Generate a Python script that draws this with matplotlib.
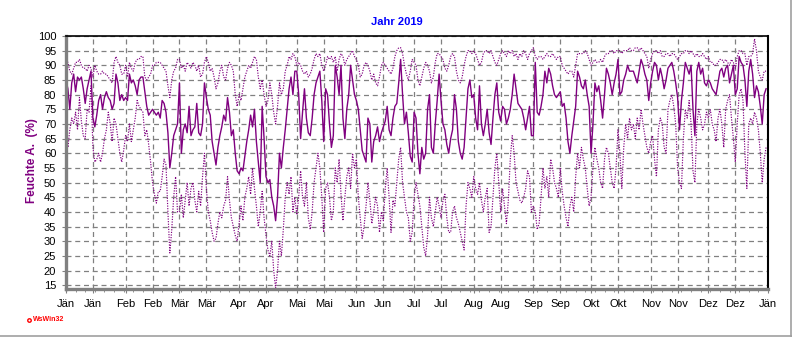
"""Relative humidity 2019 (daily mean, max, min) - WsWin32 style chart."""

import matplotlib

matplotlib.use("Agg")
import matplotlib.pyplot as plt
import numpy as np
from matplotlib.lines import Line2D

# ---------- Data (daily values, 1 Jan .. 31 Dec 2019) -------------------------

humidity_mean = [
    85, 82, 75, 84, 87, 81, 86, 85, 86, 82, 77, 82, 85, 88, 72, 69, 73, 78, 80, 75, 79, 81, 79, 78, 75, 77, 87, 84, 78, 80, 78,  # Jan
    79, 78, 87, 84, 85, 83, 80, 85, 86, 86, 81, 76, 73, 74, 75, 74, 73, 74, 72, 78, 77, 74, 67, 55, 60, 66, 68, 70,  # Feb
    84, 60, 68, 70, 67, 76, 66, 68, 69, 77, 67, 66, 70, 84, 79, 75, 73, 64, 60, 56, 62, 66, 69, 73, 71, 79, 74, 66, 68, 60, 54,  # Mar
    53, 55, 54, 59, 64, 68, 73, 69, 75, 64, 57, 50, 76, 65, 52, 50, 51, 45, 42, 37, 45, 60, 55, 62, 68, 75, 82, 86, 80, 88,  # Apr
    88, 80, 65, 74, 82, 72, 67, 66, 72, 80, 84, 86, 88, 78, 64, 82, 80, 70, 62, 66, 90, 86, 80, 90, 72, 65, 75, 80, 90, 85, 80,  # Mai
    78, 75, 68, 61, 59, 57, 72, 70, 57, 64, 66, 69, 64, 67, 69, 71, 76, 68, 66, 72, 76, 77, 84, 92, 80, 70, 74, 67, 59, 57,  # Jun
    74, 72, 60, 53, 62, 58, 60, 75, 80, 62, 60, 70, 78, 87, 78, 70, 68, 63, 60, 65, 68, 80, 75, 64, 60, 58, 62, 72, 82, 85, 79,  # Jul
    80, 72, 68, 83, 70, 66, 70, 75, 67, 63, 72, 80, 84, 74, 71, 76, 75, 70, 72, 75, 80, 87, 82, 77, 76, 75, 72, 68, 72, 76, 66,  # Aug
    66, 91, 74, 73, 76, 80, 88, 84, 89, 87, 83, 80, 79, 80, 81, 76, 77, 72, 64, 60, 66, 71, 76, 88, 86, 83, 82, 85, 80, 76,  # Sep
    60, 70, 84, 81, 83, 78, 72, 80, 89, 87, 84, 80, 84, 87, 92, 80, 81, 85, 87, 90, 88, 88, 88, 86, 84, 88, 92, 90, 87, 85, 78,  # Okt
    84, 88, 91, 90, 85, 89, 86, 82, 85, 89, 90, 91, 88, 84, 79, 68, 78, 84, 91, 89, 87, 90, 75, 66, 88, 91, 87, 89, 84, 83,  # Nov
    85, 84, 82, 81, 80, 84, 88, 89, 86, 89, 90, 84, 87, 90, 80, 82, 93, 91, 90, 85, 76, 88, 92, 87, 79, 83, 81, 76, 70, 80, 82,  # Dez
]

humidity_min = [
    75, 62, 68, 72, 70, 74, 68, 79, 71, 66, 65, 75, 74, 83, 62, 57, 58, 60, 57, 60, 65, 68, 74, 70, 64, 72, 70, 65, 60, 57, 61,
    66, 64, 70, 64, 68, 72, 78, 76, 75, 74, 66, 68, 63, 57, 50, 46, 43, 47, 47, 52, 58, 56, 40, 26, 34, 45, 52, 40,
    40, 46, 38, 44, 50, 42, 48, 50, 44, 40, 47, 42, 52, 60, 48, 40, 37, 33, 30, 31, 36, 40, 38, 42, 44, 52, 44, 38, 35, 32, 30,
    36, 42, 37, 45, 48, 52, 46, 55, 48, 42, 35, 40, 47, 38, 32, 27, 25, 30, 20, 14, 20, 30, 25, 34, 45, 50, 46, 52, 40, 45,
    39, 45, 54, 45, 42, 50, 38, 34, 40, 50, 55, 60, 55, 45, 33, 48, 50, 45, 37, 40, 55, 50, 58, 46, 37, 45, 52, 55, 48, 60, 55,
    58, 45, 38, 31, 35, 42, 50, 44, 36, 40, 45, 42, 33, 40, 37, 48, 55, 45, 33, 44, 42, 50, 58, 62, 50, 45, 40, 38, 30, 33,
    45, 50, 46, 42, 35, 28, 25, 32, 45, 38, 35, 40, 45, 42, 38, 44, 46, 38, 33, 33, 40, 42, 38, 36, 33, 30, 27, 42, 50, 48, 45,
    52, 48, 46, 50, 44, 40, 45, 48, 33, 35, 45, 55, 60, 50, 40, 48, 42, 36, 44, 58, 66, 60, 50, 47, 44, 43, 45, 48, 54, 52, 40,
    42, 40, 34, 36, 45, 55, 48, 52, 45, 58, 55, 50, 48, 45, 55, 47, 42, 38, 35, 42, 45, 40, 52, 60, 55, 62, 58, 55, 48, 42,
    45, 55, 62, 58, 55, 50, 48, 58, 62, 60, 55, 50, 48, 55, 68, 60, 48, 62, 70, 65, 72, 68, 70, 65, 72, 68, 75, 70, 66, 62, 60,
    64, 66, 58, 52, 68, 72, 70, 62, 60, 75, 78, 80, 76, 70, 55, 50, 48, 65, 75, 72, 78, 70, 54, 50, 70, 75, 72, 68, 70, 74,
    72, 75, 70, 68, 64, 72, 75, 70, 62, 75, 78, 80, 72, 65, 57, 70, 80, 82, 78, 60, 48, 70, 72, 70, 74, 72, 68, 60, 50, 58, 62,
]

humidity_max = [
    92, 91, 88, 87, 89, 91, 91, 92, 90, 89, 89, 88, 90, 89, 86, 90, 88, 87, 87, 88, 87, 87, 86, 85, 84, 91, 93, 91, 90, 87, 87,
    90, 86, 91, 89, 88, 91, 92, 92, 93, 93, 86, 85, 86, 87, 90, 90, 91, 91, 91, 90, 89, 88, 83, 79, 85, 88, 89, 92,
    92, 89, 90, 88, 91, 90, 89, 91, 90, 88, 90, 86, 87, 91, 93, 91, 88, 89, 86, 82, 84, 88, 90, 86, 85, 89, 91, 90, 88, 80, 76,
    80, 78, 82, 86, 88, 90, 89, 91, 93, 92, 86, 82, 85, 80, 76, 78, 84, 80, 74, 70, 76, 84, 80, 82, 88, 90, 93, 92, 94, 93,
    90, 91, 90, 88, 87, 88, 86, 87, 89, 92, 94, 93, 94, 90, 88, 90, 93, 92, 93, 91, 93, 88, 92, 94, 93, 90, 92, 93, 94, 95, 93,
    92, 90, 86, 87, 90, 91, 90, 88, 85, 87, 84, 83, 86, 90, 91, 90, 89, 88, 87, 89, 93, 95, 96, 96, 94, 90, 87, 85, 88, 92,
    91, 90, 85, 83, 86, 89, 91, 90, 88, 84, 86, 91, 94, 94, 93, 92, 89, 88, 90, 93, 94, 93, 88, 85, 84, 86, 90, 93, 95, 95, 94,
    95, 94, 92, 90, 91, 94, 95, 95, 94, 95, 93, 91, 90, 92, 94, 95, 94, 93, 95, 94, 95, 93, 94, 92, 94, 93, 95, 94, 92, 94, 95,
    96, 93, 92, 93, 93, 92, 93, 94, 93, 93, 94, 93, 92, 93, 93, 90, 89, 88, 87, 88, 88, 86, 90, 94, 94, 94, 94, 95, 94, 92,
    90, 91, 92, 91, 91, 92, 91, 93, 94, 94, 95, 95, 94, 95, 95, 95, 94, 95, 95, 95, 96, 95, 95, 96, 96, 95, 96, 95, 94, 93, 89,
    92, 94, 95, 95, 94, 95, 93, 93, 94, 94, 93, 94, 94, 93, 92, 93, 94, 94, 95, 95, 94, 95, 94, 93, 94, 93, 93, 94, 93, 92,
    93, 91, 91, 90, 90, 91, 92, 92, 91, 92, 91, 90, 92, 91, 89, 93, 95, 95, 94, 94, 90, 93, 93, 94, 99, 95, 88, 86, 85, 88, 88,
]

# Ticks on the 1st and 15th of each month (day of year, 0-based)
tick_days = [0, 14, 31, 45, 59, 73, 90, 104, 120, 134, 151, 165, 181, 195,
             212, 226, 243, 257, 273, 287, 304, 318, 334, 348, 365]
tick_labels = ["Jän", "Jän", "Feb", "Feb", "Mär", "Mär", "Apr", "Apr", "Mai", "Mai",
               "Jun", "Jun", "Jul", "Jul", "Aug", "Aug", "Sep", "Sep", "Okt", "Okt",
               "Nov", "Nov", "Dez", "Dez", "Jän"]
y_ticks = list(range(15, 101, 5))

PURPLE = "#800080"
GRID = "#808080"

plt.rcParams["font.family"] = ["Liberation Sans", "DejaVu Sans"]

# ---------- Figure ------------------------------------------------------------

fig = plt.figure(figsize=(7.92, 3.37), dpi=100)
ax = fig.add_axes([0.0833, 0.1424, 0.8864, 0.7508])

days = np.arange(len(humidity_mean))
ax.plot(days, humidity_min, color=PURPLE, lw=0.85, linestyle=(0, (1, 1.2)))
ax.plot(days, humidity_max, color=PURPLE, lw=0.85, linestyle=(0, (1, 1.2)))
ax.plot(days, humidity_mean, color=PURPLE, lw=1.0)

ax.set_xlim(0, 365)
ax.set_ylim(13.7, 100)
ax.set_xticks(tick_days)
ax.set_xticklabels(tick_labels)
ax.set_xticks(np.arange(0, 366, 5), minor=True)
ax.set_yticks(y_ticks)
ax.tick_params(axis="both", labelsize=8, colors="black", length=3, width=0.8, pad=4)
ax.tick_params(axis="both", color=GRID)
ax.tick_params(axis="x", which="minor", length=2, color=GRID)

ax.grid(True, which="major", color=GRID, linestyle=(0, (4, 3)), linewidth=0.9)
ax.set_axisbelow(True)

ax.spines["left"].set_color(GRID)
ax.spines["left"].set_linewidth(2.4)
ax.spines["bottom"].set_color(GRID)
ax.spines["bottom"].set_linewidth(2.4)
ax.spines["top"].set_color("black")
ax.spines["top"].set_linewidth(1.2)
ax.spines["right"].set_color("black")
ax.spines["right"].set_linewidth(1.5)

fig.text(0.501, 0.935, "Jahr 2019", color="#0000FF", fontsize=8, fontweight="bold",
         ha="center", va="center")
fig.text(0.040, 0.525, "Feuchte A.  (%)", color=PURPLE, fontsize=8.5, fontweight="bold",
         rotation=90, ha="center", va="center")

# WsWin32 mark
fig.add_artist(Line2D([0.037], [0.051], marker="o", ms=2.5, mfc="none", mec="red",
                      mew=1, transform=fig.transFigure))
fig.text(0.042, 0.051, "WsWin32", color="red", fontsize=5, fontweight="bold",
         ha="left", va="center")

# light frame at right and bottom edges
fig.add_artist(Line2D([0, 1], [0.003, 0.003], color="#a0a0a0", lw=1.2,
                      transform=fig.transFigure))
fig.add_artist(Line2D([0.9985, 0.9985], [0, 1], color="#a0a0a0", lw=1.2,
                      transform=fig.transFigure))

fig.savefig("out.png", dpi=100)
